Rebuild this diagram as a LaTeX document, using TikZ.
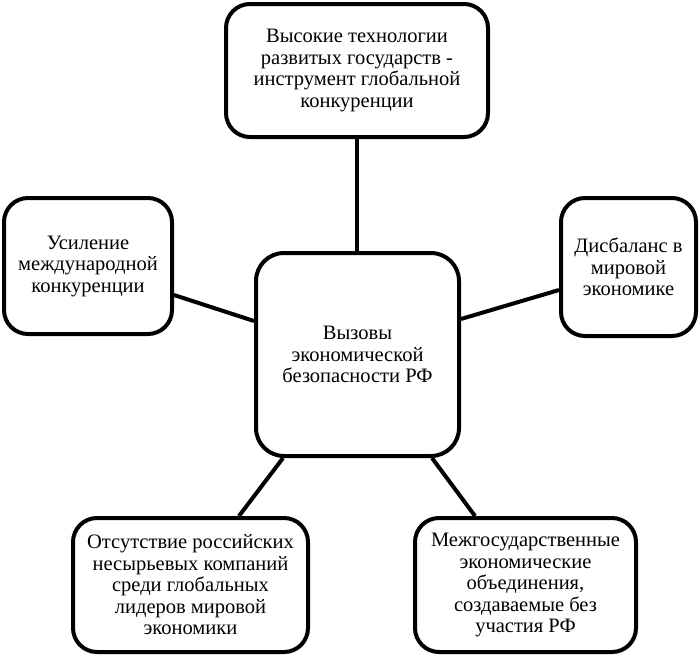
\documentclass[tikz,border=0pt]{standalone}
\usepackage{fontspec}
\setmainfont{Liberation Serif}

\begin{document}
\begin{tikzpicture}[x=1pt,y=-1pt,line width=4pt,
	kasten/.style={draw,rounded corners=24pt,align=center,inner sep=0pt,
		font=\fontsize{20.5}{21.5}\selectfont},
	verbindung/.style={line width=4pt}]
\useasboundingbox (0,0) rectangle (699,656);

\node[kasten,minimum width=262pt,minimum height=133pt] (hightech) at (357,70.5)
	{Высокие технологии\\развитых государств -\\инструмент глобальной\\конкуренции};
\node[kasten,minimum width=168pt,minimum height=136pt] (konkurenz) at (88,266)
	{Усиление\\международной\\конкуренции};
\node[kasten,minimum width=135pt,minimum height=138pt] (disbalans) at (628.5,267)
	{Дисбаланс в\\мировой\\экономике};
\node[kasten,rounded corners=28pt,minimum width=203pt,minimum height=203pt] (vyzovy) at (357.5,354.5)
	{Вызовы\\экономической\\безопасности РФ};
\node[kasten,minimum width=235pt,minimum height=134pt] (lidery) at (190.5,585)
	{Отсутствие российских\\несырьевых компаний\\среди глобальных\\лидеров мировой\\экономики};
\node[kasten,minimum width=221pt,minimum height=134pt] (obedinenia) at (525.5,585)
	{Межгосударственные\\экономические\\объединения,\\создаваемые без\\участия РФ};

\draw[verbindung] (hightech.south) -- (hightech.south |- vyzovy.north);
\draw[verbindung] ([yshift=-29pt]konkurenz.east) -- ([yshift=33.5pt]vyzovy.west);
\draw[verbindung] ([yshift=-23pt]disbalans.west) -- ([yshift=35.5pt]vyzovy.east);
\draw[verbindung] ([xshift=-74.5pt]vyzovy.south) -- ([xshift=48.5pt]lidery.north);
\draw[verbindung] ([xshift=74.5pt]vyzovy.south) -- ([xshift=-50.5pt]obedinenia.north);

\end{tikzpicture}
\end{document}
